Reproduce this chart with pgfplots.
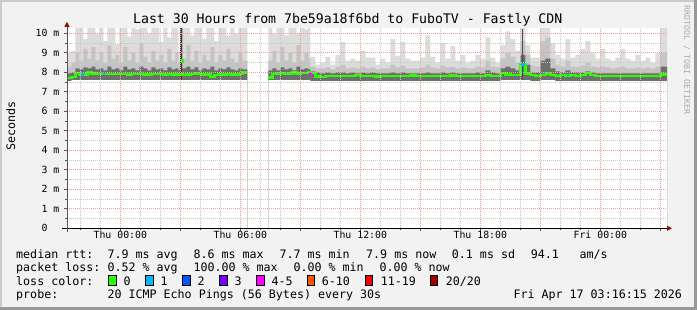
\documentclass[border=0pt]{standalone}
\usepackage{fontspec}
\setmainfont{DejaVu Sans Mono}
\usepackage{pgfplots}
\pgfplotsset{compat=1.18}
\usepackage{pgfplotstable}
\usetikzlibrary{arrows.meta}

\definecolor{bgc}{HTML}{F2F2F2}
\definecolor{shadeA}{HTML}{CBCBCB}
\definecolor{shadeB}{HTML}{999999}
\definecolor{mgridc}{HTML}{F2A0A0}
\definecolor{ggridc}{HTML}{C8C8C8}
\definecolor{smokeL}{HTML}{DCDCDC}
\definecolor{smokeM}{HTML}{C4C4C4}
\definecolor{smokeD}{HTML}{6E6E6E}
\definecolor{loss0}{HTML}{26FF00}
\definecolor{loss1}{HTML}{00B8FF}
\definecolor{loss2}{HTML}{0059FF}
\definecolor{loss3}{HTML}{7E00FF}
\definecolor{loss4}{HTML}{FF00FF}
\definecolor{loss6}{HTML}{FF5500}
\definecolor{loss11}{HTML}{FF0000}
\definecolor{loss20}{HTML}{A10000}
\definecolor{arrowc}{HTML}{8B1010}
\definecolor{axisc}{HTML}{555555}
\definecolor{credit}{HTML}{ABABAB}

\newcommand\titlefont{\fontsize{13.2bp}{15bp}\selectfont}
\newcommand\legfont{\fontsize{11.66bp}{13bp}\selectfont}
\newcommand\tickfont{\fontsize{9.85bp}{11bp}\selectfont}
\newcommand\creditfont{\fontsize{8.3bp}{9bp}\selectfont}

% t = hours since Thu 00:00; top/m/d = upper edges of light/medium/dark smoke; lo = lower edge; med = median rtt (ms)
\pgfplotstableread{
t top m d lo med
-2.65 9.0 8.3 7.95 7.55 7.72
-2.45 9.1 8.5 8.0 7.6 7.75
-2.25 10.5 9.0 8.2 7.6 7.98
-2.05 10.5 8.6 8.15 7.6 7.9
-1.85 9.7 9.2 8.25 7.6 7.9
-1.65 10.5 8.7 8.2 7.6 8.0
-1.45 10.5 9.3 8.3 7.6 7.95
-1.25 10.0 8.6 8.15 7.6 7.93
-1.05 10.5 9.0 8.2 7.6 7.93
-0.85 9.6 8.5 8.1 7.6 7.93
-0.65 10.5 9.4 8.3 7.6 7.92
-0.45 10.5 8.7 8.15 7.6 7.93
-0.25 9.45 8.9 8.2 7.6 7.92
-0.05 10.5 8.5 8.1 7.6 7.93
0.15 10.5 9.3 8.3 7.6 7.93
0.35 9.85 8.6 8.15 7.6 7.9
0.55 10.5 9.0 8.2 7.6 7.93
0.75 10.2 8.5 8.1 7.6 7.92
0.95 10.5 9.5 8.3 7.6 7.92
1.15 10.5 8.8 8.2 7.6 7.88
1.35 10.0 8.5 8.1 7.6 7.9
1.55 10.5 9.1 8.25 7.6 7.93
1.75 10.5 8.6 8.15 7.6 7.93
1.95 9.55 8.9 8.2 7.6 7.92
2.15 10.5 8.5 8.1 7.6 7.88
2.35 9.8 9.2 8.25 7.6 7.93
2.55 10.5 8.6 8.15 7.6 7.9
2.75 10.5 9.0 8.2 7.6 7.9
2.90 9.1 8.5 8.1 7.6 7.92
3.00 10.5 10.5 10.5 7.6 7.92
3.10 10.5 8.7 8.2 7.6 7.85
3.30 10.5 9.4 8.3 7.6 7.9
3.50 9.9 8.6 8.15 7.6 7.93
3.70 10.5 9.1 8.25 7.6 7.95
3.90 10.5 8.5 8.1 7.6 7.92
4.10 9.7 8.9 8.2 7.6 7.9
4.30 10.5 8.6 8.15 7.6 7.88
4.50 10.5 9.3 8.3 7.6 7.75
4.70 9.6 8.5 8.1 7.6 7.85
4.90 10.5 8.9 8.2 7.6 7.9
5.10 10.5 8.6 8.15 7.6 7.88
5.30 9.9 9.2 8.25 7.6 7.92
5.50 10.5 8.7 8.15 7.6 7.9
5.70 10.0 8.5 8.1 7.6 7.9
5.90 10.5 9.0 8.2 7.6 7.93
6.10 10.5 8.6 8.15 7.6 8.0
6.35 10.5 8.6 8.15 7.6 8.0
}\segA

\pgfplotstableread{
t top m d lo med
7.40 10.5 8.6 8.1 7.6 7.73
7.60 10.0 9.1 8.2 7.6 7.92
7.80 10.5 8.5 8.1 7.6 7.95
8.00 10.5 9.3 8.25 7.6 7.98
8.20 9.9 8.6 8.15 7.6 7.93
8.40 10.5 9.0 8.2 7.6 7.95
8.60 10.5 8.5 8.1 7.6 8.0
8.80 10.0 9.4 8.3 7.6 7.95
9.00 10.5 8.6 8.15 7.6 7.97
9.20 10.2 9.0 8.2 7.6 7.97
9.40 10.5 8.7 8.15 7.6 8.0
9.50 8.8 8.3 8.05 7.55 7.97
9.75 8.4 8.2 8.0 7.55 7.78
10.00 8.5 8.2 7.95 7.55 7.75
10.25 8.8 8.25 8.0 7.55 7.8
10.50 8.4 8.15 7.95 7.55 7.8
10.75 8.9 8.3 8.0 7.55 7.8
11.00 9.55 8.4 8.0 7.55 7.8
11.25 8.6 8.2 7.95 7.55 7.82
11.50 8.7 8.25 8.0 7.55 7.8
11.75 8.6 8.2 7.95 7.55 7.85
12.00 9.1 8.3 8.0 7.55 7.8
12.25 8.75 8.2 7.95 7.55 7.82
12.50 8.75 8.25 8.0 7.55 7.8
12.75 8.4 8.15 7.95 7.55 7.78
13.00 8.7 8.2 7.95 7.55 7.82
13.25 8.5 8.2 7.95 7.55 7.8
13.50 9.7 8.4 8.0 7.55 7.8
13.75 8.85 8.25 7.95 7.55 7.82
14.00 9.55 8.35 8.0 7.55 7.8
14.25 8.7 8.2 7.95 7.55 7.8
14.50 8.6 8.2 7.95 7.55 7.84
14.75 8.6 8.2 7.95 7.55 7.8
15.00 8.75 8.25 7.95 7.55 7.8
15.25 9.9 8.4 8.0 7.55 7.82
15.50 8.8 8.25 7.95 7.55 7.8
15.75 8.5 8.2 7.95 7.55 7.8
16.00 9.5 8.35 8.0 7.55 7.82
16.25 8.7 8.25 7.95 7.55 7.8
16.50 9.35 8.3 8.0 7.55 7.84
16.75 8.6 8.2 7.95 7.55 7.8
17.00 8.9 8.25 7.95 7.55 7.82
17.25 8.5 8.2 7.95 7.55 7.8
17.50 8.6 8.2 7.95 7.55 7.8
17.75 8.9 8.3 8.0 7.55 7.82
18.00 8.7 8.25 7.95 7.55 7.8
18.25 9.8 8.6 8.1 7.55 7.85
18.50 8.75 8.3 8.0 7.55 7.82
18.75 8.5 8.25 7.95 7.55 7.82
19.00 9.4 8.7 8.2 7.6 7.98
19.25 10.1 9.0 8.3 7.6 7.9
19.50 9.7 8.8 8.2 7.6 7.85
19.75 9.1 8.5 8.1 7.6 7.85
20.00 10.5 9.6 8.9 7.6 8.4
20.25 9.4 8.9 8.4 7.6 7.95
20.50 8.75 8.35 8.0 7.55 7.85
20.75 8.75 8.3 8.0 7.55 7.82
21.00 10.5 9.6 8.6 7.6 7.85
21.25 10.5 9.8 8.7 7.6 7.95
21.50 9.5 8.7 8.2 7.6 7.85
21.75 8.9 8.4 8.05 7.55 7.82
22.00 8.7 8.3 8.0 7.55 7.85
22.25 9.7 8.6 8.1 7.55 7.82
22.50 8.75 8.3 8.0 7.55 7.85
22.75 8.9 8.3 8.0 7.55 7.82
23.00 9.2 8.35 8.0 7.55 7.85
23.25 9.6 8.5 8.05 7.55 7.98
23.50 9.0 8.3 8.0 7.55 7.85
23.75 8.7 8.25 7.95 7.55 7.82
24.00 9.2 8.3 7.95 7.55 7.8
24.25 8.7 8.25 7.95 7.55 7.82
24.50 8.6 8.2 7.95 7.55 7.8
24.75 8.75 8.25 7.95 7.55 7.82
25.00 9.2 8.3 7.95 7.55 7.8
25.25 8.7 8.2 7.95 7.55 7.8
25.50 8.6 8.2 7.95 7.55 7.82
25.75 8.9 8.25 7.95 7.55 7.8
26.00 8.6 8.2 7.95 7.55 7.8
26.25 8.75 8.25 7.95 7.55 7.82
26.50 8.5 8.2 7.95 7.55 7.8
26.75 9.0 8.3 7.95 7.55 7.8
27.00 10.5 9.0 8.3 7.55 7.9
27.25 10.5 9.0 8.3 7.55 7.9
27.35 10.5 9.0 8.3 7.55 7.9
}\segBC

\newcommand\lbox[2]{\filldraw[fill=#2, draw=black, line width=0.8bp] (#1bp,24.5bp) rectangle ++(7.5bp,10.5bp);}

\begin{document}
\begin{tikzpicture}
\useasboundingbox (0,0) rectangle (697bp,310bp);
\fill[bgc] (0,0) rectangle (697bp,310bp);
\fill[shadeA] (0,0) rectangle (2bp,310bp);
\fill[shadeA] (0,308bp) rectangle (697bp,310bp);
\fill[shadeB] (694bp,0) rectangle (697bp,310bp);
\fill[shadeB] (0,0) rectangle (697bp,3bp);

\begin{axis}[
  at={(67bp,81.7bp)}, anchor=south west,
  scale only axis, width=600bp, height=200bp,
  xmin=-2.665, xmax=27.335, ymin=0, ymax=10.26,
  axis lines=left,
  axis on top,
  axis background/.style={fill=white},
  xtick={0,3,...,27},
  xticklabels={Thu 00:00,,Thu 06:00,,Thu 12:00,,Thu 18:00,,Fri 00:00,},
  minor xtick={-2,-1,1,2,4,5,7,8,10,11,13,14,16,17,19,20,22,23,25,26},
  ytick={0,1,2,3,4,5,6,7,8,9,10},
  yticklabels={0\hphantom{\ m},1 m,2 m,3 m,4 m,5 m,6 m,7 m,8 m,9 m,10 m},
  minor ytick={0.5,1.5,2.5,3.5,4.5,5.5,6.5,7.5,8.5,9.5},
  grid=both,
  major grid style={draw=mgridc, dash pattern=on 1bp off 1bp, line width=0.8bp},
  minor grid style={draw=ggridc, dash pattern=on 1bp off 1bp, line width=0.8bp},
  tick align=outside,
  major tick length=3bp, minor tick length=2bp,
  tick style={draw=axisc, line width=0.8bp, solid},
  x axis line style={draw=black, line width=0.8bp, shorten <=-5bp, shorten >=-5bp, -{Triangle[length=5bp,width=5bp,color=arrowc]}},
  y axis line style={draw=axisc, line width=0.8bp, shorten <=-4bp, shorten >=-6.5bp, -{Triangle[length=5bp,width=5bp,color=arrowc]}},
  xticklabel style={font=\tickfont, inner sep=0pt, anchor=north},
  yticklabel style={font=\tickfont, inner sep=0pt, anchor=east, xshift=-4.5bp},
]
\addplot[const plot, draw=none, fill=smokeL] table[x=t,y=top]{\segA} \closedcycle;
\addplot[const plot, draw=none, fill=smokeM] table[x=t,y=m]{\segA} \closedcycle;
\addplot[const plot, draw=none, fill=smokeD] table[x=t,y=d]{\segA} \closedcycle;
\addplot[const plot, draw=none, fill=white] table[x=t,y=lo]{\segA} \closedcycle;
\addplot[const plot, draw=none, fill=smokeL] table[x=t,y=top]{\segBC} \closedcycle;
\addplot[const plot, draw=none, fill=smokeM] table[x=t,y=m]{\segBC} \closedcycle;
\addplot[const plot, draw=none, fill=smokeD] table[x=t,y=d]{\segBC} \closedcycle;
\addplot[const plot, draw=none, fill=white] table[x=t,y=lo]{\segBC} \closedcycle;
\addplot[draw=black!78, line width=2bp] coordinates {(3.05,7.6) (3.05,10.5)};
\addplot[draw=black!70, line width=1.5bp] coordinates {(20.1,7.6) (20.1,10.2)};
\addplot[const plot, draw=loss0, line width=2.4bp] table[x=t,y=med]{\segA};
\addplot[const plot, draw=loss0, line width=2.4bp] table[x=t,y=med]{\segBC};
\addplot[draw=loss1, line width=2.4bp] coordinates {(-1.95,7.9) (-1.8,7.9)};
\addplot[draw=loss1, line width=2.4bp] coordinates {(-0.85,7.93) (-0.75,7.93)};
\addplot[draw=loss4, line width=2.4bp] coordinates {(9.45,7.97) (9.6,7.97)};
\addplot[draw=loss4, line width=2.4bp] coordinates {(9.6,7.8) (9.7,7.8)};
\addplot[draw=loss1, line width=2.4bp] coordinates {(20.0,8.4) (20.25,8.4)};
\addplot[draw=loss1, line width=2.4bp] coordinates {(21.15,7.98) (21.25,7.98)};
\addplot[draw=loss1, line width=2.4bp] coordinates {(22.35,7.85) (22.45,7.85)};
\addplot[only marks, mark=square*, mark size=1.3bp, color=loss0] coordinates {(3.1,8.6)};
\end{axis}

\node[anchor=base, inner sep=0pt, font=\titlefont] at (347.7bp,286.2bp) {Last 30 Hours from 7be59a18f6bd to FuboTV - Fastly CDN};
\node[rotate=90, inner sep=0pt, font=\legfont] at (10.8bp,184bp) {Seconds};
\node[rotate=-90, inner sep=0pt, font=\creditfont, text=credit] at (686.7bp,250bp) {RRDTOOL / TOBI OETIKER};

\begin{scope}[every node/.style={anchor=base west, inner sep=0pt, font=\legfont}]
\node at (16bp,51.7bp) {median rtt:};
\node at (107.3bp,51.7bp) {7.9 ms avg};
\node at (193.3bp,51.7bp) {8.6 ms max};
\node at (279.3bp,51.7bp) {7.7 ms min};
\node at (366bp,51.7bp) {7.9 ms now};
\node at (451.7bp,51.7bp) {0.1 ms sd};
\node at (530.7bp,51.7bp) {94.1};
\node at (579.3bp,51.7bp) {am/s};

\node at (16bp,38.3bp) {packet loss:};
\node at (107.3bp,38.3bp) {0.52 \% avg};
\node at (193.3bp,38.3bp) {100.00 \% max};
\node at (293.3bp,38.3bp) {0.00 \% min};
\node at (379.3bp,38.3bp) {0.00 \% now};

\node at (16bp,25bp) {loss color:};
\node at (123.3bp,25bp) {0};
\node at (160.3bp,25bp) {1};
\node at (197.3bp,25bp) {2};
\node at (234.3bp,25bp) {3};
\node at (271.3bp,25bp) {4-5};
\node at (321.7bp,25bp) {6-10};
\node at (380.7bp,25bp) {11-19};
\node at (445.7bp,25bp) {20/20};

\node at (16bp,11.5bp) {probe:};
\node at (107.3bp,11.5bp) {20 ICMP Echo Pings (56 Bytes) every 30s};
\node at (513.3bp,11.5bp) {Fri Apr 17 03:16:15 2026};
\end{scope}
\lbox{108.7}{loss0}
\lbox{145.7}{loss1}
\lbox{182.7}{loss2}
\lbox{219.7}{loss3}
\lbox{256.7}{loss4}
\lbox{307}{loss6}
\lbox{365.3}{loss11}
\lbox{430.3}{loss20}
\end{tikzpicture}
\end{document}
